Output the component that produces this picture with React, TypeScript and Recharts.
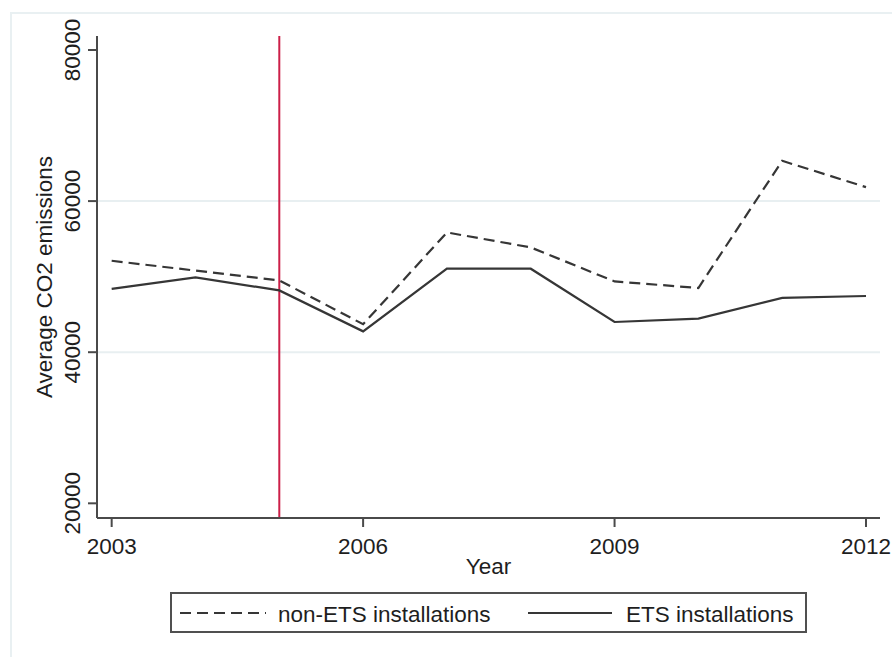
import React from 'react';
import { LineChart, Line, XAxis, YAxis, ReferenceLine, Legend } from 'recharts';

const years = [2003, 2004, 2005, 2006, 2007, 2008, 2009, 2010, 2011, 2012];
const nonEts = [52100, 50800, 49500, 43700, 55850, 53870, 49370, 48500, 65330, 61850];
const ets = [48370, 49900, 48180, 42760, 51050, 51050, 44000, 44440, 47180, 47440];
const xTicks = [2003, 2006, 2009, 2012];
const yTicks = [20000, 40000, 60000, 80000];
const gridValues = [40000, 60000];
const treatmentYear = 2005;
const seriesNames = ['non-ETS installations', 'ETS installations'];

const data = years.map((y, i) => ({ year: y, nonEts: nonEts[i], ets: ets[i] }));

const FONT = '"Liberation Sans", Arial, sans-serif';
const FS = 22.5;
const LINE = '#363636';
const AXIS = '#4a4a4a';

const YTick = (props: any) => {
  const { x, y, payload } = props;
  const bx = x - 8;
  return (
    <text
      x={bx}
      y={y}
      transform={`rotate(-90 ${bx} ${y})`}
      textAnchor="middle"
      fontSize={FS}
      fontFamily={FONT}
      fill="#1e1e1e"
    >
      {payload.value}
    </text>
  );
};

const XTick = (props: any) => {
  const { x, y, payload } = props;
  return (
    <text x={x} y={y + 25} textAnchor="middle" fontSize={FS} fontFamily={FONT} fill="#1e1e1e">
      {payload.value}
    </text>
  );
};

const LegendBox = () => (
  <div
    style={{
      width: 633,
      height: 37,
      border: '2px solid #505050',
      background: '#fff',
      position: 'relative',
      fontFamily: FONT,
      fontSize: FS,
      color: '#1e1e1e',
    }}
  >
    <svg width={633} height={37} style={{ position: 'absolute', left: 0, top: 0 }}>
      <line x1={8} x2={94} y1={19} y2={19} stroke={LINE} strokeWidth={2.2} strokeDasharray="11 6" />
      <text x={106} y={28} fontSize={FS} fontFamily={FONT} fill="#1e1e1e">{seriesNames[0]}</text>
      <line x1={356} x2={440} y1={19} y2={19} stroke={LINE} strokeWidth={2.2} />
      <text x={454} y={28} fontSize={FS} fontFamily={FONT} fill="#1e1e1e">{seriesNames[1]}</text>
    </svg>
  </div>
);

export default function App() {
  return (
    <div style={{ position: 'absolute', left: 0, top: 0, width: 892, height: 657, overflow: 'hidden', background: '#fff' }}>
      <div
        style={{
          position: 'absolute',
          left: 10,
          top: 12,
          width: 1000,
          height: 800,
          border: '2px solid #e9f0f2',
          boxSizing: 'border-box',
        }}
      />
      <div style={{ position: 'absolute', left: 0, top: 0 }}>
        <LineChart width={892} height={657} data={data} margin={{ top: 36, right: 12, bottom: 99, left: 0 }}>
          {gridValues.map((v) => (
            <ReferenceLine key={v} y={v} stroke="#e8eff1" strokeWidth={2} ifOverflow="extendDomain" />
          ))}
          <XAxis
            dataKey="year"
            type="number"
            domain={[2002.825, 2012.167]}
            ticks={xTicks}
            allowDataOverflow
            height={40}
            tickSize={9}
            tick={<XTick />}
            axisLine={{ stroke: AXIS, strokeWidth: 2 }}
            tickLine={{ stroke: AXIS, strokeWidth: 2 }}
            label={(p: any) => {
              const vb = p.viewBox;
              return (
                <text x={vb.x + vb.width / 2} y={vb.y + 56} textAnchor="middle" fontSize={FS} fontFamily={FONT} fill="#1e1e1e">
                  Year
                </text>
              );
            }}
          />
          <YAxis
            type="number"
            domain={[18057, 81850]}
            ticks={yTicks}
            allowDataOverflow
            width={97}
            tickSize={9}
            tickMargin={0}
            tick={<YTick />}
            axisLine={{ stroke: AXIS, strokeWidth: 2 }}
            tickLine={{ stroke: AXIS, strokeWidth: 2 }}
            label={(p: any) => {
              const vb = p.viewBox;
              const cy = vb.y + vb.height / 2;
              return (
                <text x={52} y={cy} transform={`rotate(-90 52 ${cy})`} textAnchor="middle" fontSize={FS} fontFamily={FONT} fill="#1e1e1e">
                  Average CO2 emissions
                </text>
              );
            }}
          />
          <ReferenceLine x={treatmentYear} stroke="#cc1f48" strokeWidth={2} />
          <Line
            dataKey="nonEts"
            name={seriesNames[0]}
            type="linear"
            stroke={LINE}
            strokeWidth={2.2}
            strokeDasharray="11 6"
            dot={false}
            isAnimationActive={false}
          />
          <Line
            dataKey="ets"
            name={seriesNames[1]}
            type="linear"
            stroke={LINE}
            strokeWidth={2.2}
            dot={false}
            isAnimationActive={false}
          />
          <Legend
            layout="vertical"
            align="center"
            verticalAlign="middle"
            content={<LegendBox />}
            wrapperStyle={{ left: 170, top: 592, width: 637, height: 41 }}
          />
        </LineChart>
      </div>
    </div>
  );
}
